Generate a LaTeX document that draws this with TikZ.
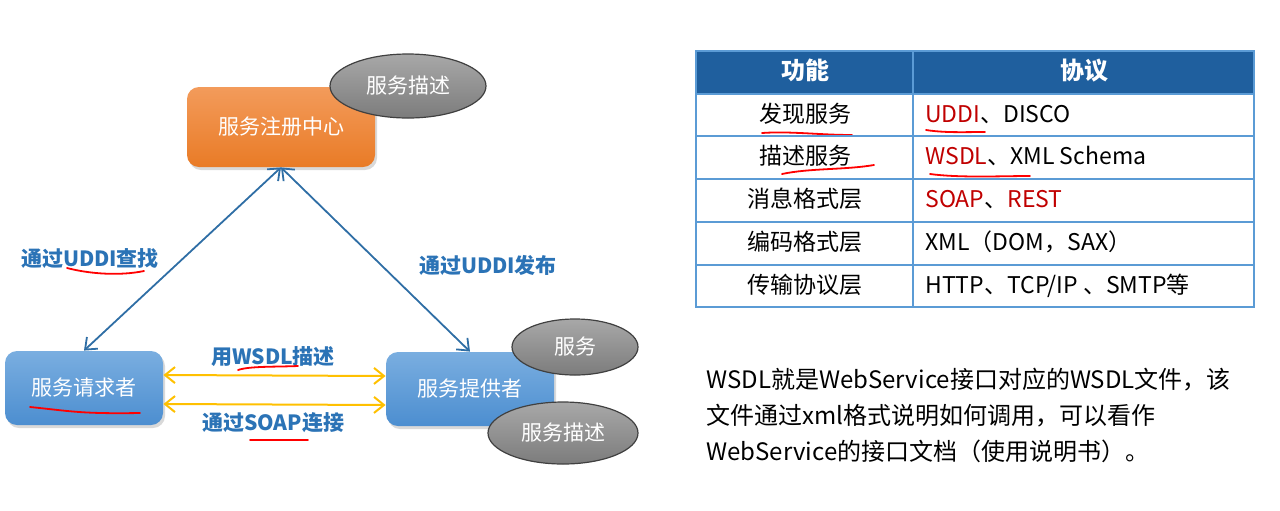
\documentclass[tikz,border=0pt]{standalone}
\usepackage{fontspec}
\setmainfont{Noto Sans CJK SC}
\usetikzlibrary{shapes.geometric,arrows.meta,shadows}
\definecolor{orangetop}{HTML}{F39B5B}
\definecolor{orangebot}{HTML}{E97B26}
\definecolor{bluetop}{HTML}{7AAEE0}
\definecolor{bluebot}{HTML}{4C8ED0}
\definecolor{graytop}{HTML}{A8A8A8}
\definecolor{graybot}{HTML}{7C7C7C}
\definecolor{linkblue}{HTML}{2F6EA5}
\definecolor{labelblue}{HTML}{2B73B6}
\definecolor{soapyellow}{HTML}{FFC000}
\definecolor{headblue}{HTML}{1F5F9E}
\definecolor{gridblue}{HTML}{5B9BD5}
\definecolor{protred}{HTML}{C00000}
\newcommand{\hl}[1]{\textcolor{protred}{#1}}
\begin{document}
\begin{tikzpicture}[x=0.5pt,y=-0.5pt,
  txt/.style={inner sep=0pt,text height=0.85em,text depth=0.1em},
  box/.style={txt,rounded corners=6pt,text=white,font=\fontsize{10.5}{12}\selectfont,
    drop shadow={opacity=0.3,shadow xshift=1pt,shadow yshift=-1.5pt}},
  bubble/.style={txt,ellipse,draw=black!75,line width=0.6pt,top color=graytop,bottom color=graybot,
    text=white,font=\fontsize{10.5}{12}\selectfont},
  lbl/.style={txt,text=labelblue,font=\fontsize{10.5}{12}\selectfont\bfseries},
  cell/.style={txt,font=\fontsize{11.5}{13}\selectfont},
  grid/.style={draw=gridblue,line width=0.7pt},
  scribble/.style={draw=red,line width=0.9pt,line cap=round},
  >={Straight Barb[length=5pt,width=8pt]}]
\useasboundingbox (0,0) rectangle (1280,510);
% boxes
\node[box,top color=orangetop,bottom color=orangebot,minimum width=94pt,minimum height=40pt] (reg) at (281,127) {服务注册中心};
\node[box,top color=bluetop,bottom color=bluebot,minimum width=79pt,minimum height=37pt] (req) at (84,388) {服务请求者};
\node[box,top color=bluetop,bottom color=bluebot,minimum width=84pt,minimum height=37pt] (prov) at (470,389) {服务提供者};
% bubbles
\node[bubble,minimum width=78pt,minimum height=32pt] (regdesc) at (408,86) {服务描述};
\node[bubble,minimum width=63pt,minimum height=28pt] (svc) at (575,347) {服务};
\node[bubble,minimum width=75pt,minimum height=31pt] (provdesc) at (563,433) {服务描述};
% links
\draw[<->,linkblue,line width=0.9pt] (reg.south) -- (req.north);
\draw[<->,linkblue,line width=0.9pt] (reg.south) -- (prov.north);
\draw[<->,soapyellow,line width=1pt] ([yshift=6.5pt]req.east) -- ([yshift=6.5pt]prov.west);
\draw[<->,soapyellow,line width=1pt] ([yshift=-8pt]req.east) -- ([yshift=-8pt]prov.west);
\node[lbl] (find) at (90,259) {通过UDDI查找};
\node[lbl] (publish) at (488,266) {通过UDDI发布};
\node[lbl] (wsdl) at (273,357) {用WSDL描述};
\node[lbl] (soap) at (273,423) {通过SOAP连接};
% red marks
\draw[scribble] (67,268) .. controls (90,274) and (120,276) .. (144,271);
\draw[scribble] (238,370) .. controls (250,366) and (275,367) .. (298,366);
\draw[scribble] (250,440) -- (308,440);
\draw[scribble] (30,407) .. controls (70,411) and (80,414) .. (140,413);
\draw[scribble] (762,133) .. controls (790,131) and (820,135) .. (852,135);
\draw[scribble] (782,174) .. controls (810,168) and (845,170) .. (874,165);
\draw[scribble] (926,130) .. controls (945,133) and (965,132) .. (985,132);
\draw[scribble] (930,174) .. controls (960,178) and (1000,176) .. (1030,176);
% table
\fill[headblue] (696,51) rectangle (1254,94);
\foreach \y in {94,136,179,222,265}
  \draw[grid] (696,\y) -- (1254,\y);
\draw[grid] (913,51) -- (913,307);
\draw[grid] (696,51) rectangle (1254,307);
\node[cell,text=white,font=\fontsize{12}{14}\selectfont\bfseries] (hfunc) at (805,72) {功能};
\node[cell,text=white,font=\fontsize{12}{14}\selectfont\bfseries] (hproto) at (1084,72) {协议};
\foreach \y/\f/\p [count=\i] in {115/发现服务/{\hl{UDDI}、DISCO},
    157/描述服务/{\hl{WSDL}、XML Schema},
    200/消息格式层/{\hl{SOAP}、\hl{REST}},
    243/编码格式层/{XML（DOM，SAX）},
    286/传输协议层/{HTTP、TCP/IP 、SMTP等}} {
  \node[cell] (func\i) at (805,\y) {\f};
  \node[cell,anchor=west] (proto\i) at (925,\y) {\p};
}
% note
\foreach \y/\t [count=\i] in {381/{WSDL就是WebService接口对应的WSDL文件，该},
    417/{文件通过xml格式说明如何调用，可以看作},
    453/{WebService的接口文档（使用说明书）。}}
  \node[txt,anchor=west,font=\fontsize{12}{15}\selectfont] (note\i) at (706,\y) {\t};
\end{tikzpicture}
\end{document}
